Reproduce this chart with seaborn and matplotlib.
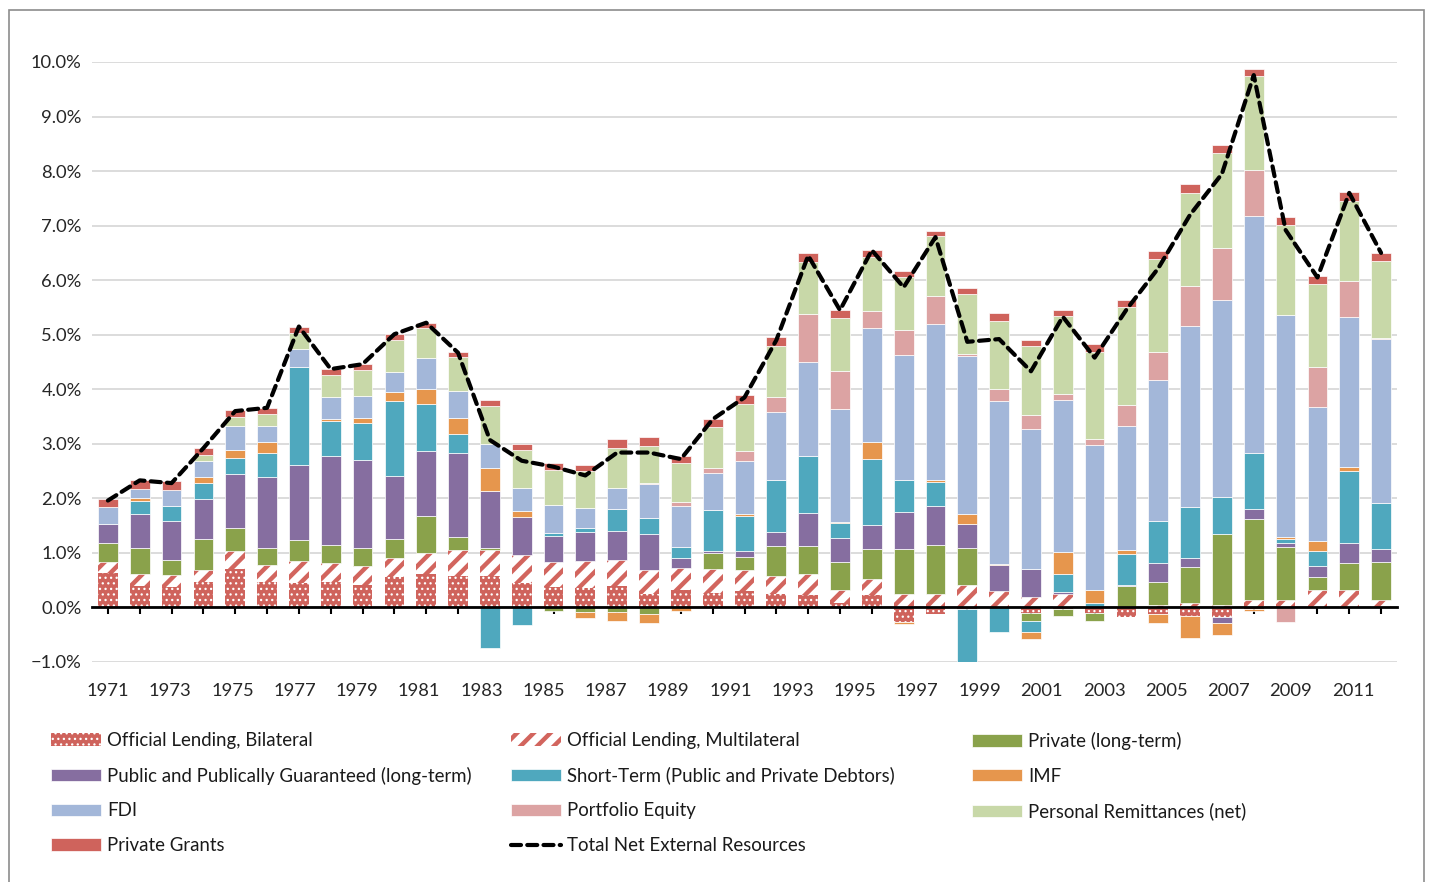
import numpy as np
import matplotlib
matplotlib.use('Agg')
import matplotlib.pyplot as plt
from matplotlib.ticker import FixedLocator, PercentFormatter
from matplotlib.patches import Rectangle
from matplotlib.lines import Line2D
import seaborn as sns

# net resource flows, % of GDP, 1971-2011
years = list(range(1971, 2012))

bilateral = [0.63, 0.39, 0.37, 0.465, 0.71, 0.465, 0.45, 0.465, 0.415, 0.555,
             0.605, 0.58, 0.58, 0.445, 0.375, 0.36, 0.39, 0.255, 0.325, 0.26,
             0.30, 0.245, 0.225, 0.08, 0.23, -0.27, -0.12, -0.02, 0.0, -0.10,
             -0.02, -0.10, -0.18, -0.12, -0.15, -0.17, -0.03, 0.0, 0.0, 0.0, 0.0]
multilateral = [0.20, 0.215, 0.22, 0.225, 0.32, 0.315, 0.405, 0.35, 0.345, 0.355,
                0.395, 0.48, 0.465, 0.52, 0.455, 0.50, 0.485, 0.44, 0.40, 0.445,
                0.38, 0.325, 0.39, 0.245, 0.29, 0.25, 0.25, 0.42, 0.31, 0.19,
                0.25, 0.0, 0.0, 0.04, 0.09, 0.05, 0.13, 0.145, 0.325, 0.325, 0.145]
private_lt = [0.35, 0.49, 0.285, 0.57, 0.425, 0.315, 0.385, 0.335, 0.335, 0.34,
              0.68, 0.235, 0.05, 0.0, -0.07, -0.085, -0.085, -0.115, 0.0, 0.29,
              0.245, 0.56, 0.515, 0.50, 0.555, 0.815, 0.89, 0.675, 0.0, -0.15,
              -0.135, -0.15, 0.40, 0.42, 0.645, 1.29, 1.485, 0.955, 0.24, 0.49, 0.69]
ppg = [0.355, 0.615, 0.715, 0.73, 0.99, 1.295, 1.365, 1.63, 1.605, 1.165,
       1.19, 1.545, 1.04, 0.685, 0.485, 0.52, 0.535, 0.655, 0.185, 0.035,
       0.105, 0.25, 0.61, 0.45, 0.445, 0.685, 0.725, 0.44, 0.46, 0.51,
       0.03, 0.0, 0.02, 0.35, 0.18, -0.12, 0.195, 0.08, 0.195, 0.36, 0.24]
short_term = [0.0, 0.25, 0.27, 0.285, 0.295, 0.435, 1.805, 0.64, 0.675, 1.37,
              0.86, 0.34, -0.735, -0.32, 0.055, 0.07, 0.39, 0.29, 0.195, 0.75,
              0.655, 0.95, 1.035, 0.275, 1.205, 0.59, 0.435, -1.0, -0.45, -0.20,
              0.325, 0.08, 0.555, 0.78, 0.93, 0.69, 1.015, 0.07, 0.275, 1.33, 0.835]
imf = [0.0, 0.04, 0.0, 0.11, 0.15, 0.205, 0.0, 0.03, 0.095, 0.165,
       0.28, 0.295, 0.42, 0.12, 0.0, -0.11, -0.16, -0.17, -0.06, 0.0,
       0.025, 0.0, 0.0, 0.02, 0.305, -0.03, 0.04, 0.185, 0.02, -0.135,
       0.42, 0.245, 0.075, -0.17, -0.41, -0.22, -0.03, 0.05, 0.175, 0.07, 0.0]
fdi = [0.30, 0.17, 0.29, 0.305, 0.43, 0.30, 0.335, 0.40, 0.40, 0.37,
       0.565, 0.495, 0.44, 0.415, 0.51, 0.37, 0.39, 0.625, 0.75, 0.685,
       0.98, 1.255, 1.73, 2.075, 2.10, 2.28, 2.86, 2.885, 3.0, 2.575,
       2.78, 2.66, 2.275, 2.585, 3.31, 3.61, 4.35, 4.06, 2.465, 2.755, 3.015]
portfolio = [0.0, 0.0, 0.0, 0.0, 0.0, 0.0, 0.0, 0.0, 0.0, 0.0,
             0.0, 0.0, 0.0, 0.0, 0.0, 0.0, 0.0, 0.02, 0.075, 0.09,
             0.18, 0.265, 0.87, 0.69, 0.305, 0.475, 0.51, 0.05, 0.215, 0.25,
             0.11, 0.10, 0.39, 0.51, 0.73, 0.955, 0.85, -0.27, 0.73, 0.65, 0.02]
remittances = [0.0, 0.0, 0.0, 0.11, 0.17, 0.22, 0.295, 0.41, 0.485, 0.585,
               0.555, 0.615, 0.70, 0.71, 0.645, 0.68, 0.73, 0.68, 0.715, 0.745,
               0.855, 0.945, 0.96, 0.975, 0.99, 0.96, 1.10, 1.10, 1.25, 1.265,
               1.42, 1.60, 1.785, 1.705, 1.71, 1.74, 1.71, 1.65, 1.53, 1.47, 1.41]
grants = [0.15, 0.16, 0.17, 0.12, 0.125, 0.11, 0.11, 0.11, 0.105, 0.105,
          0.09, 0.10, 0.11, 0.11, 0.12, 0.12, 0.16, 0.16, 0.135, 0.16,
          0.17, 0.165, 0.155, 0.15, 0.135, 0.11, 0.095, 0.11, 0.135, 0.12,
          0.12, 0.14, 0.145, 0.14, 0.16, 0.145, 0.145, 0.145, 0.145, 0.165, 0.145]
total = [1.96, 2.33, 2.28, 2.92, 3.60, 3.66, 5.15, 4.37, 4.46, 5.01,
         5.22, 4.67, 3.07, 2.69, 2.58, 2.42, 2.84, 2.84, 2.72, 3.45,
         3.85, 4.90, 6.45, 5.45, 6.55, 5.87, 6.79, 4.87, 4.92, 4.33,
         5.33, 4.58, 5.46, 6.22, 7.20, 7.95, 9.76, 6.92, 6.05, 7.60, 6.50]

series_names = ['Official Lending, Bilateral', 'Official Lending, Multilateral',
                'Private (long-term)', 'Public and Publically Guaranteed (long-term)',
                'Short-Term (Public and Private Debtors)', 'IMF', 'FDI',
                'Portfolio Equity', 'Personal Remittances (net)', 'Private Grants']
series_vals = [bilateral, multilateral, private_lt, ppg, short_term, imf, fdi,
               portfolio, remittances, grants]

red = '#CF635C'
styles = [
    dict(facecolor=red, edgecolor='white', hatch='...', linewidth=0, hlw=0.9),
    dict(facecolor='white', edgecolor='#D2655E', hatch='//', linewidth=0, hlw=3.2),
    dict(facecolor='#8AA24B', edgecolor='white', linewidth=0.5),
    dict(facecolor='#866EA0', edgecolor='white', linewidth=0.5),
    dict(facecolor='#4FA8BE', edgecolor='white', linewidth=0.5),
    dict(facecolor='#E6964D', edgecolor='white', linewidth=0.5),
    dict(facecolor='#A3B7D9', edgecolor='white', linewidth=0.5),
    dict(facecolor='#DCA3A3', edgecolor='white', linewidth=0.5),
    dict(facecolor='#C8D8A8', edgecolor='white', linewidth=0.5),
    dict(facecolor=red, edgecolor='white', linewidth=0.5),
]

sns.set_theme(style='white')
plt.rcParams['font.family'] = ['Lato', 'DejaVu Sans']
plt.rcParams['text.color'] = '#1a1a1a'

W, H = 1429, 882
fig = plt.figure(figsize=(W / 100, H / 100), dpi=100)
ax = fig.add_axes([92 / W, 1 - 662 / H, (1397 - 92) / W, (662 - 62) / H])

x = np.arange(len(years))
pos_base = np.zeros(len(years))
neg_base = np.zeros(len(years))
handles = {}
for name, vals, st in zip(series_names, series_vals, styles):
    st = dict(st)
    hlw = st.pop('hlw', 1.0)
    v = np.array(vals, dtype=float)
    up = v > 0
    dn = v < 0
    with plt.rc_context({'hatch.linewidth': hlw}):
        ax.bar(x[up], v[up], bottom=pos_base[up], width=0.62, zorder=2, **st)
        ax.bar(x[dn], v[dn], bottom=neg_base[dn], width=0.62, zorder=2, **st)
        handles[name] = Rectangle((0, 0), 1, 1, **st)
    pos_base[up] += v[up]
    neg_base[dn] += v[dn]

sns.lineplot(x=x, y=total, ax=ax, color='black', linewidth=3.0,
             linestyle=(0, (2.4, 1.5)), dash_capstyle='round', zorder=4)

ax.set_xlim(-0.5, len(years) - 0.5)
ax.set_ylim(-1, 10)
ax.yaxis.set_major_locator(FixedLocator(np.arange(-1, 10.5, 1)))
ax.yaxis.set_major_formatter(PercentFormatter(xmax=100, decimals=1))
ax.grid(axis='y', color='#D9D9D9', linewidth=1.3)
ax.grid(axis='x', visible=False)
ax.set_axisbelow(True)
for s in ['left', 'right', 'top']:
    ax.spines[s].set_visible(False)
ax.spines['bottom'].set_position(('data', 0))
ax.spines['bottom'].set_color('black')
ax.spines['bottom'].set_linewidth(2)
ax.spines['bottom'].set_zorder(3)

# tick marks on every bar, year labels every second year at the reference's spacing
ax.xaxis.remove_overlapping_locs = False
ax.set_xticks(x)
ax.set_xticklabels([])
label_years = years[::2]
ax.set_xticks(np.arange(0, len(years), 2) * 0.978, minor=True)
ax.set_xticklabels([str(y) for y in label_years], minor=True)
ax.tick_params(axis='x', which='major', direction='out', length=5, width=1.5,
               color='black', bottom=True)
ax.tick_params(axis='x', which='minor', length=0, pad=54.5, labelsize=13.2)
ax.tick_params(axis='y', length=0, pad=7.5, labelsize=13.2)
ax.set_xlabel('')
ax.set_ylabel('')

line_handle = Line2D([0], [0], color='black', linewidth=3.0,
                     linestyle=(0, (2.4, 1.5)), dash_capstyle='round')
columns = [
    (['Official Lending, Bilateral', 'Public and Publically Guaranteed (long-term)',
      'FDI', 'Private Grants'], 51, 0.9),
    (['Official Lending, Multilateral', 'Short-Term (Public and Private Debtors)',
      'Portfolio Equity', 'Total Net External Resources'], 511, 3.2),
    (['Private (long-term)', 'IMF', 'Personal Remittances (net)'], 972, 1.0),
]
for names, left, hlw in columns:
    hs = [line_handle if n == 'Total Net External Resources' else handles[n] for n in names]
    with plt.rc_context({'hatch.linewidth': hlw}):
        fig.legend(hs, names, loc='upper left', bbox_to_anchor=(left / W, 1 - 732 / H),
                   frameon=False, fontsize=13.4, handlelength=2.69, handleheight=0.65,
                   handletextpad=0.32, labelspacing=0.95, borderpad=0, borderaxespad=0)

fig.patches.append(Rectangle((9 / W, -0.05), (1424 - 9) / W, 1 - 10 / H + 0.05,
                             transform=fig.transFigure, fill=False,
                             edgecolor='#8C8C8C', linewidth=1.2))

fig.savefig('out.png', dpi=100)
